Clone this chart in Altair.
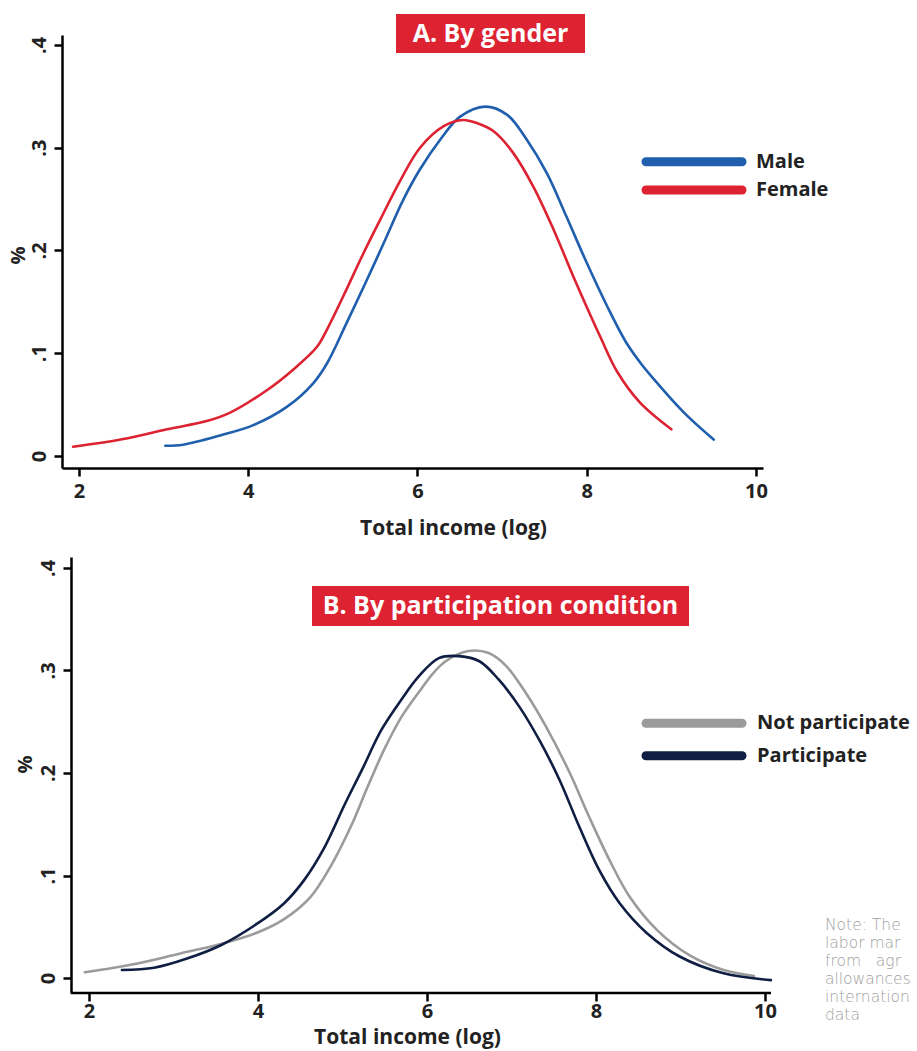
import altair as alt
import pandas as pd

# ---------------- data ----------------
male_x = [3.02, 3.23, 3.67, 4.06, 4.46, 4.77, 4.93, 5.16, 5.40, 5.60, 5.83, 6.03, 6.27, 6.50,
          6.80, 7.06, 7.29, 7.53, 7.76, 8.00, 8.24, 8.47, 8.65, 8.79, 9.14, 9.50]
male_y = [0.010, 0.011, 0.020, 0.030, 0.048, 0.071, 0.090, 0.129, 0.171, 0.207, 0.249, 0.279,
          0.308, 0.330, 0.340, 0.332, 0.308, 0.275, 0.233, 0.188, 0.146, 0.110, 0.089, 0.075,
          0.043, 0.016]

female_x = [1.93, 2.56, 3.04, 3.51, 3.78, 4.22, 4.53, 4.81, 4.93, 5.12, 5.36, 5.56, 5.79, 6.03,
            6.31, 6.54, 6.70, 6.90, 7.13, 7.37, 7.61, 7.84, 8.00, 8.16, 8.36, 8.63, 9.00]
female_y = [0.009, 0.017, 0.026, 0.034, 0.042, 0.064, 0.084, 0.106, 0.123, 0.155, 0.197, 0.230,
            0.267, 0.300, 0.321, 0.327, 0.324, 0.316, 0.295, 0.262, 0.220, 0.175, 0.145, 0.116,
            0.082, 0.052, 0.026]

notpart_x = [1.95, 2.56, 3.08, 3.55, 3.98, 4.30, 4.62, 4.86, 5.10, 5.30, 5.50, 5.70, 5.94, 6.06,
             6.22, 6.49, 6.73, 6.93, 7.17, 7.41, 7.69, 7.92, 8.16, 8.40, 8.72, 9.11, 9.51, 9.87]
notpart_y = [0.0056, 0.014, 0.024, 0.033, 0.044, 0.057, 0.079, 0.109, 0.148, 0.187, 0.224, 0.255,
             0.283, 0.296, 0.309, 0.319, 0.317, 0.305, 0.278, 0.245, 0.200, 0.157, 0.115, 0.079,
             0.047, 0.022, 0.0078, 0.002]

part_x = [2.39, 2.77, 3.16, 3.56, 3.99, 4.31, 4.55, 4.79, 5.03, 5.23, 5.46, 5.70, 5.90, 6.14,
          6.38, 6.62, 6.85, 7.09, 7.33, 7.57, 7.80, 8.04, 8.28, 8.60, 8.99, 9.51, 10.07]
part_y = [0.0078, 0.010, 0.019, 0.032, 0.053, 0.073, 0.096, 0.128, 0.170, 0.203, 0.242, 0.272,
          0.294, 0.312, 0.314, 0.309, 0.291, 0.265, 0.232, 0.193, 0.148, 0.105, 0.073, 0.044,
          0.021, 0.0046, -0.002]

gender_series = ["Male", "Female"]
gender_colors = ["#1f5fad", "#dd2232"]
part_series = ["Not participate", "Participate"]
part_colors = ["#9b9b9b", "#0f1e42"]

x_ticks = [2, 4, 6, 8, 10]
y_ticks = [0, 0.1, 0.2, 0.3, 0.4]

title_a = "A. By gender"
title_b = "B. By participation condition"
x_title = "Total income (log)"
y_title = "%"
note_lines = ["Note: The", "labor mar", "from\u00a0\u00a0\u00a0agr", "allowances", "internation", "data"]

FONT = "Open Sans"
RED_BOX = "#dd2232"
TXT = "#222222"
FS = 20

df_a = pd.concat([
    pd.DataFrame({"x": male_x, "y": male_y, "series": "Male"}),
    pd.DataFrame({"x": female_x, "y": female_y, "series": "Female"}),
])
df_b = pd.concat([
    pd.DataFrame({"x": notpart_x, "y": notpart_y, "series": "Not participate"}),
    pd.DataFrame({"x": part_x, "y": part_y, "series": "Participate"}),
])

label_expr = "datum.value == 0 ? '0' : replace(format(datum.value, '.1f'), '0.', '.')"


def make_panel(df, series, colors, xdom, ydom, W, H, ax_offset, x_domain_line,
               x_label_pad, x_title_x, x_title_y, y_title_x, y_title_y,
               box, title, legend_ys, legend_text_x, note=False):
    xs = alt.Scale(domain=xdom, nice=False, zero=False)
    ys = alt.Scale(domain=ydom, nice=False, zero=False)
    xaxis = alt.Axis(values=x_ticks, title=x_title, format="d", labelPadding=x_label_pad,
                     titleX=x_title_x, titleY=x_title_y, titleBaseline="middle",
                     titleAnchor="start", titleAlign="center", titleFontSize=21,
                     domain=x_domain_line)
    yaxis = alt.Axis(values=y_ticks, title=y_title, labelExpr=label_expr, labelAngle=270,
                     labelAlign="center", labelBaseline="bottom", labelPadding=5,
                     titleAngle=270, titleX=y_title_x, titleY=y_title_y,
                     titleBaseline="middle", titleAlign="center", titleAnchor="start",
                     offset=ax_offset)
    layers = []
    if not x_domain_line:
        rule_df = pd.DataFrame({"a": [0]})
        layers.append(alt.Chart(rule_df).mark_rule(color="black", strokeWidth=2.5).encode(
            x=alt.datum(1.787), x2=alt.datum(xdom[1]), y=alt.value(H)))
    # one line layer per series, coloured from the series' colour list
    for s, c in zip(series, colors):
        layers.append(alt.Chart(df[df["series"] == s]).mark_line(
            strokeWidth=2.6, interpolate="catmull-rom", strokeCap="round", color=c).encode(
            x=alt.X("x:Q", scale=xs, axis=xaxis),
            y=alt.Y("y:Q", scale=ys, axis=yaxis),
        ))
    # title box
    tdf = pd.DataFrame({"t": [title]})
    x0, x1, y0, y1 = box
    layers.append(alt.Chart(tdf).mark_rect(color=RED_BOX).encode(
        x=alt.value(x0), x2=alt.value(x1), y=alt.value(y0), y2=alt.value(y1)))
    layers.append(alt.Chart(tdf).mark_text(font=FONT, fontWeight="bold", fontSize=25,
                                           color="white", baseline="middle", align="center").encode(
        x=alt.value((x0 + x1) / 2), y=alt.value((y0 + y1) / 2), text="t:N"))
    # legend
    for s, c, ly in zip(series, colors, legend_ys):
        ldf = pd.DataFrame({"series": [s]})
        layers.append(alt.Chart(ldf).mark_rule(strokeWidth=9, strokeCap="round", color=c).encode(
            x=alt.value(584), x2=alt.value(680), y=alt.value(ly)))
        layers.append(alt.Chart(ldf).mark_text(font=FONT, fontWeight="bold", fontSize=FS,
                                               color=TXT, align="left", baseline="middle").encode(
            x=alt.value(legend_text_x), y=alt.value(ly), text="series:N"))
    if note:
        ndf = pd.DataFrame({"a": [0]})
        layers.append(alt.Chart(ndf).mark_text(font="DejaVu Sans", fontWeight=300, fontSize=15.5,
                                               color="#a0a0a0", align="left",
                                               baseline="alphabetic", lineHeight=18,
                                               text=note_lines).encode(
            x=alt.value(763), y=alt.value(373)))
    return alt.layer(*layers).properties(width=W, height=H)


panel_a = make_panel(df_a, gender_series, gender_colors,
                     xdom=[1.799, 10.083], ydom=[-0.0117, 0.4097], W=701, H=433,
                     ax_offset=0, x_domain_line=True, x_label_pad=5,
                     x_title_x=391, x_title_y=60, y_title_x=-44, y_title_y=220,
                     box=(334, 523, -21, 18), title=title_a,
                     legend_ys=[126.7, 155], legend_text_x=694)

panel_b = make_panel(df_b, part_series, part_colors,
                     xdom=[1.6805, 10.071], ydom=[-0.0146, 0.4107], W=709, H=436,
                     ax_offset=-9, x_domain_line=False, x_label_pad=0,
                     x_title_x=345, x_title_y=44.5, y_title_x=-46, y_title_y=207,
                     box=(250, 627, 29, 69), title=title_b,
                     legend_ys=[166.3, 198.7], legend_text_x=695, note=True)

chart = alt.vconcat(panel_a, panel_b, spacing=19).properties(
    padding={"left": 8, "top": 14, "right": 0, "bottom": 3}
).configure_view(stroke=None).configure_axis(
    grid=False, domainColor="black", domainWidth=2.5, tickColor="black", tickWidth=2.5,
    tickSize=8, labelFont=FONT, labelFontWeight="bold", labelFontSize=FS, labelColor=TXT,
    titleFont=FONT, titleFontWeight="bold", titleFontSize=FS, titleColor=TXT,
)

chart.save("out.html", embed_options={"renderer": "svg", "actions": False})
